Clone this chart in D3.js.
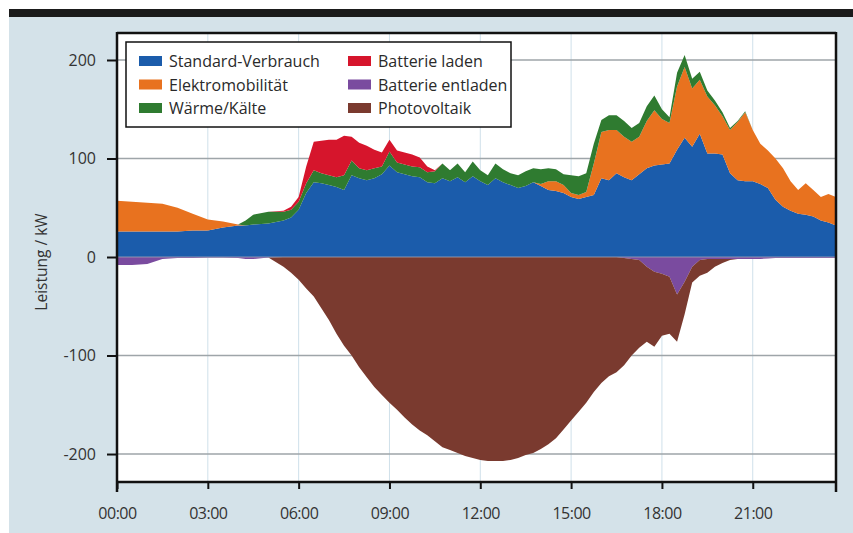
<!DOCTYPE html>
<html><head><meta charset="utf-8">
<script src="https://cdn.jsdelivr.net/npm/d3@7"></script>
<style>
html,body{margin:0;padding:0;background:#ffffff;}
svg{display:block;}
text{font-family:"Open Sans","DejaVu Sans",sans-serif;}
</style>
</head><body>
<svg id="chart" width="853" height="533"></svg>
<script>
// ---- data (kW), 15/30-minute steps ----
const times = ["00:00","00:30","01:00","01:30","02:00","02:30","03:00","03:30","04:00","04:15","04:30","05:00","05:30",
"05:45","06:00","06:15","06:30","06:45","07:00","07:15","07:30","07:45","08:00","08:15","08:30","08:45",
"09:00","09:15","09:30","09:45","10:00","10:15","10:30","10:45","11:00","11:15","11:30","11:45",
"12:00","12:15","12:30","12:45","13:00","13:15","13:30","13:45","14:00","14:15","14:30","14:45",
"15:00","15:15","15:30","15:45","16:00","16:15","16:30","16:45","17:00","17:15","17:30","17:45",
"18:00","18:15","18:30","18:45","19:00","19:15","19:30","19:45","20:00","20:15","20:30","20:45",
"21:00","21:15","21:30","21:45","22:00","22:15","22:30","22:45","23:00","23:15","23:30","23:45"];

const standardVerbrauch = [26,26,26,26,26,27,27,30,32,32,33,34,37,
40,48,65,76,75,73,71,68,83,80,78,80,84,
93,86,84,82,81,76,75,80,77,81,76,82,
77,73,80,76,73,70,72,76,72,68,67,65,
61,59,61,63,80,78,85,81,78,84,90,93,
94,95,109,121,112,125,105,105,104,85,78,77,
77,74,70,58,51,47,44,43,41,37,35,32];

const elektromobilitaet = [31,30,29,28,24,17,11,6,1,0,0,0,0,
0,0,0,0,0,0,0,0,0,0,0,0,0,
0,0,0,0,0,0,0,0,0,0,0,0,
0,0,0,0,0,0,0,0,2,9,10,8,
4,4,5,32,47,51,44,41,39,38,48,56,
46,41,64,72,59,55,58,49,39,44,59,70,
52,41,38,42,39,30,24,32,27,24,29,29];

const waermeKaelte = [0,0,0,0,0,0,0,0,0,5,10,12,9,
8,8,10,12,10,10,10,15,15,10,10,10,8,
14,10,10,10,10,10,12,15,11,14,10,15,
11,10,15,13,12,13,15,14,15,13,12,11,
18,19,19,20,12,15,15,16,14,14,15,15,
10,6,14,12,10,8,6,5,4,2,1,1,
0,0,0,0,0,0,0,0,0,0,0,0];

const batterieLaden = [0,0,0,0,0,0,0,0,0,0,0,0,1,
3,5,17,29,33,36,38,40,24,26,25,19,14,
12,12,12,12,10,6,1,0,0,0,0,0,
0,0,0,0,0,0,0,0,0,0,0,0,
0,0,0,0,0,0,0,0,0,0,0,0,
0,0,0,0,0,0,0,0,0,0,0,0,
0,0,0,0,0,0,0,0,0,0,0,0];

const batterieEntladen = [-8,-8,-7,-2,-1,-1,-0.5,-0.5,-1,-2,-2,-0.5,0,
0,0,0,0,0,0,0,0,0,0,0,0,0,
0,0,0,0,0,0,0,0,0,0,0,0,
0,0,0,0,0,0,0,0,0,0,0,0,
0,0,0,0,0,0,0,-1,-2,-3,-10,-15,
-17,-20,-38,-25,-10,-3,-2,-2,-2,-2,-2,-2,
-2,-2,-1.5,-1,-1,-1,-1,-1,-1,-1,-1,-1];

const photovoltaik = [0,0,0,0,0,0,0,0,0,0,0,0,-10,
-16,-23,-32,-40,-52,-64,-78,-90,-100,-112,-122,-132,-140,
-148,-155,-163,-170,-176,-181,-187,-193,-196,-199,-202,-204,
-206,-207,-207,-207,-206,-204,-201,-199,-195,-190,-184,-175,
-166,-157,-148,-137,-128,-121,-117,-109,-98,-89,-76,-76,
-63,-58,-48,-33,-16,-16,-14,-8,-4,-1,0,0,
0,0,0,0,0,0,0,0,0,0,0,0];

const seriesNames = ["Standard-Verbrauch","Elektromobilität","Wärme/Kälte","Batterie laden","Batterie entladen","Photovoltaik"];
const seriesColors = ["#1b5cab","#e8721f","#2f7b30","#d6152c","#7a4b9f","#7a3a2f"];
const yTickValues = [200,100,0,-100,-200];
const xTickLabels = ["00:00","03:00","06:00","09:00","12:00","15:00","18:00","21:00"];
const yTitle = "Leistung / kW";

// ---- build table ----
const seriesArrays = [standardVerbrauch, elektromobilitaet, waermeKaelte, batterieLaden, batterieEntladen, photovoltaik];
const toHours = s => { const [h,m] = s.split(":").map(Number); return h + m/60; };
const rows = times.map((t,i) => {
  const r = {t: toHours(t)};
  seriesNames.forEach((k,j) => r[k] = seriesArrays[j][i]);
  return r;
});

const svg = d3.select("#chart");
const L = 117, R = 836, T = 33, B = 482;

// background
svg.append("rect").attr("x",9).attr("y",9).attr("width",844).attr("height",524).attr("fill","#d4e2e9");
svg.append("rect").attr("x",9).attr("y",9).attr("width",844).attr("height",8).attr("fill","#1b1b1b");
svg.append("rect").attr("x",L).attr("y",T).attr("width",R-L).attr("height",B-T).attr("fill","#ffffff");

const x = d3.scaleLinear().domain([0, toHours("23:45")]).range([L, R]);
const y = d3.scaleLinear().domain([-228.4, 227.4]).range([B, T]);
const xTickVals = xTickLabels.map(toHours);

// grid
svg.append("g").selectAll("line").data(xTickVals.slice(1)).join("line")
  .attr("x1",d=>x(d)).attr("x2",d=>x(d)).attr("y1",T).attr("y2",B)
  .attr("stroke","#cfe0ea").attr("stroke-width",1);
svg.append("g").selectAll("line").data(yTickValues).join("line")
  .attr("x1",L).attr("x2",R).attr("y1",d=>y(d)).attr("y2",d=>y(d))
  .attr("stroke","#9ea5a9").attr("stroke-width",1.5);

// stacked areas: positive series stack upward, negative series stack downward
const posKeys = seriesNames.slice(0,4), negKeys = seriesNames.slice(4);
const posStack = d3.stack().keys(posKeys)(rows);
const negStack = d3.stack().keys(negKeys)(rows);
const allStacks = posStack.concat(negStack);
const area = d3.area().x(d=>x(d.data.t)).y0(d=>y(d[0])).y1(d=>y(d[1])).curve(d3.curveLinear);
svg.append("g").selectAll("path").data(allStacks).join("path")
  .attr("d", area).attr("fill",d=>seriesColors[seriesNames.indexOf(d.key)]);

// zero line on top
svg.append("line").attr("x1",L).attr("x2",R).attr("y1",y(0)).attr("y2",y(0))
  .attr("stroke","#a3a6b6").attr("stroke-width",1.2).attr("opacity",0.8);

// axes
const yAxis = d3.axisLeft(y).tickValues(yTickValues).tickSize(10).tickPadding(11).tickFormat(d=>String(d));
const gy = svg.append("g").attr("transform",`translate(${L},0)`).call(yAxis);
gy.select(".domain").remove();
gy.selectAll(".tick line").attr("stroke","#111").attr("stroke-width",2);
gy.selectAll(".tick text").attr("font-size",16).attr("fill","#333").attr("font-family","'Open Sans',sans-serif");

const xAxis = d3.axisBottom(x).tickValues(xTickVals).tickSize(7).tickPadding(19).tickFormat((d,i)=>xTickLabels[i]);
const gx = svg.append("g").attr("transform",`translate(0,${B})`).call(xAxis);
gx.select(".domain").remove();
gx.selectAll(".tick line").attr("stroke","#111").attr("stroke-width",2);
gx.selectAll(".tick text").attr("font-size",16).attr("fill","#333").attr("font-family","'Open Sans',sans-serif").attr("letter-spacing","-0.5");

// frame
const frame = svg.append("g").attr("stroke","#111").attr("stroke-width",2.5);
frame.append("line").attr("x1",L).attr("x2",R).attr("y1",T).attr("y2",T);
frame.append("line").attr("x1",L).attr("x2",R).attr("y1",B).attr("y2",B);
frame.append("line").attr("x1",L).attr("x2",L).attr("y1",T-1).attr("y2",492);
frame.append("line").attr("x1",R).attr("x2",R).attr("y1",T-1).attr("y2",492);

// y title
svg.append("text").attr("transform",`translate(41,${y(0)+5}) rotate(-90)`)
  .attr("text-anchor","middle").attr("dominant-baseline","central")
  .attr("font-size",15.5).attr("fill","#333").text(yTitle);

// legend
const lg = svg.append("g");
lg.append("rect").attr("x",126).attr("y",42).attr("width",385).attr("height",85)
  .attr("fill","#fff").attr("stroke","#111").attr("stroke-width",1.5);
seriesNames.forEach((name,idx)=>{
  const col = Math.floor(idx/3), row = idx%3;
  const sx = col===0 ? 139 : 348;
  const cy = 61 + row*23.5;
  lg.append("rect").attr("x",sx).attr("y",cy-5).attr("width",23).attr("height",10).attr("fill",seriesColors[idx]);
  lg.append("text").attr("x",sx+30).attr("y",cy).attr("dominant-baseline","central")
    .attr("font-size",16).attr("fill","#2a2a2a").text(name);
});
</script>
</body></html>
